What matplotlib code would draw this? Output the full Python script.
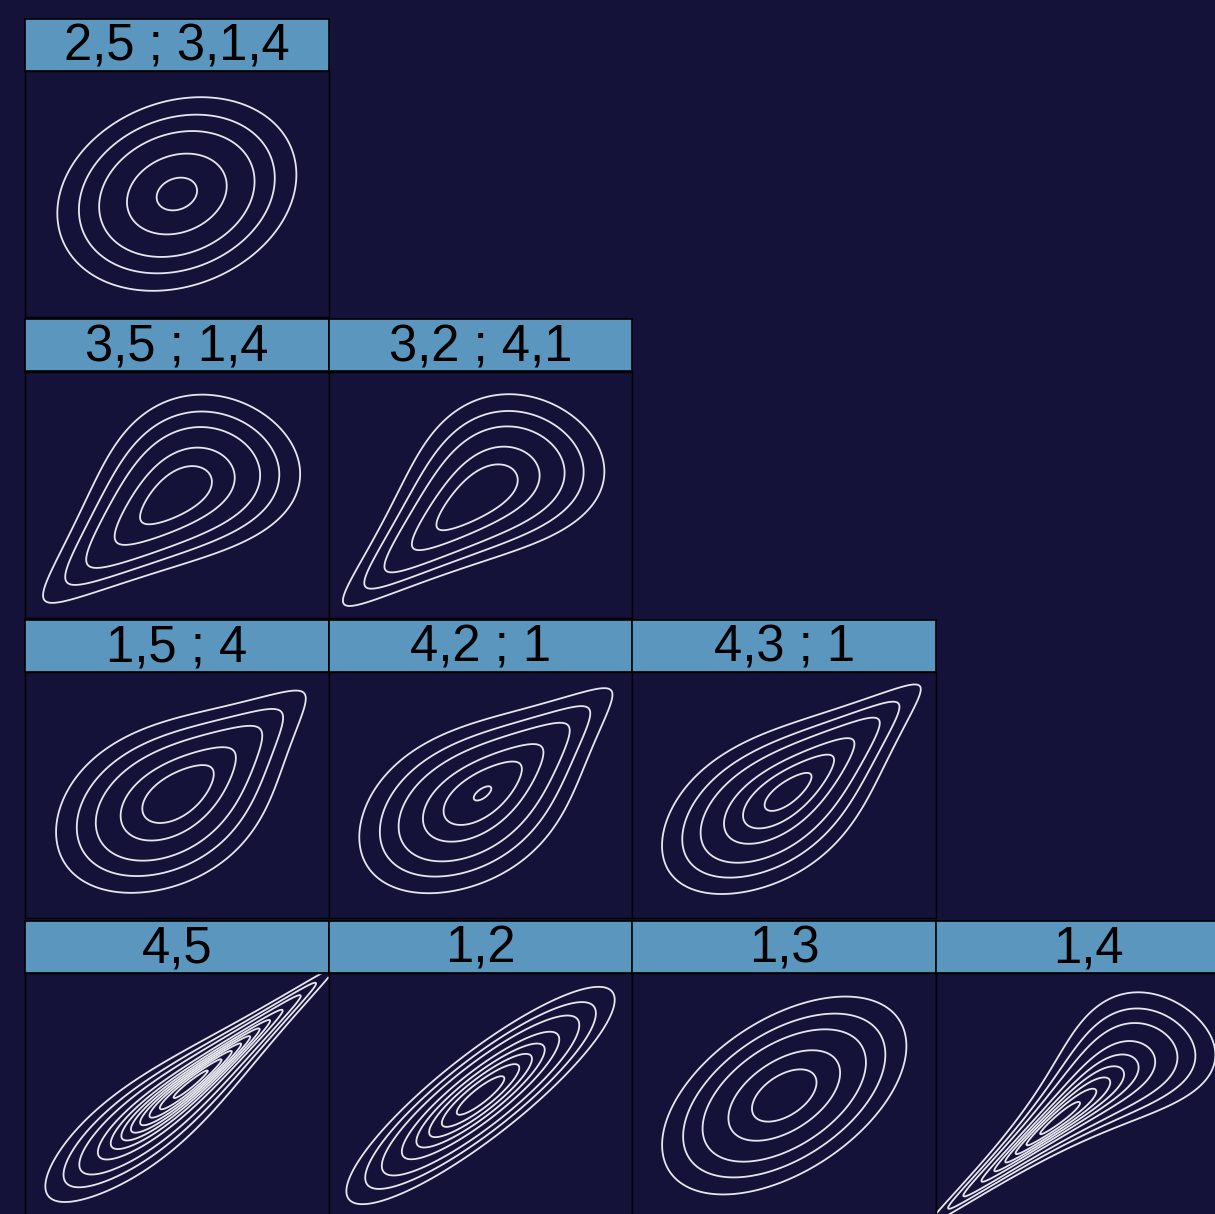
import math
import numpy as np
import matplotlib
matplotlib.use("Agg")
from matplotlib import pyplot as plt

# pair-copula tree layout: row 0 is the top tree, row 3 is tree 1
row0_labels = ["2,5 ; 3,1,4"]
row1_labels = ["3,5 ; 1,4", "3,2 ; 4,1"]
row2_labels = ["1,5 ; 4", "4,2 ; 1", "4,3 ; 1"]
row3_labels = ["4,5", "1,2", "1,3", "1,4"]

row0_family = ["gauss"]
row1_family = ["clayton", "clayton"]
row2_family = ["gumbel", "gumbel", "gumbel"]
row3_family = ["gumbel", "gauss", "gauss", "clayton"]

row0_par = [0.2]
row1_par = [1.0, 1.2]
row2_par = [1.5, 1.6, 1.8]
row3_par = [4.0, 0.88, 0.5, 3.5]

levels = [0.01, 0.025, 0.05, 0.1, 0.15, 0.2, 0.25, 0.3, 0.35, 0.4, 0.45, 0.5,
          0.6, 0.7, 0.8, 0.9, 1.0]

bg = "#141239"
strip = "#5b96be"
linecol = "#e6e6ee"

erf = np.vectorize(math.erf)


def dens(fam, par, x, y):
    # copula density on standard normal margins
    phi = np.exp(-0.5 * (x**2 + y**2)) / (2 * np.pi)
    if fam == "gauss":
        r = par
        q = (x**2 - 2 * r * x * y + y**2) / (1 - r**2)
        return np.exp(-0.5 * q) / (2 * np.pi * np.sqrt(1 - r**2))
    u = 0.5 * (1 + erf(x / np.sqrt(2)))
    v = 0.5 * (1 + erf(y / np.sqrt(2)))
    t = par
    if fam == "clayton":
        c = (1 + t) * (u * v) ** (-1 - t) * (u**-t + v**-t - 1) ** (-2 - 1 / t)
    else:
        lu, lv = -np.log(u), -np.log(v)
        a = lu ** t + lv ** t
        cc = np.exp(-a ** (1 / t))
        c = cc / (u * v) * (lu * lv) ** (t - 1) * a ** (-2 + 2 / t) * (1 + (t - 1) * a ** (-1 / t))
    return c * phi


rows = [(row0_labels, row0_family, row0_par),
        (row1_labels, row1_family, row1_par),
        (row2_labels, row2_family, row2_par),
        (row3_labels, row3_family, row3_par)]

W, H = 1215, 1214
fig = plt.figure(figsize=(W / 100, H / 100), dpi=100, facecolor=bg)

g = np.linspace(-3, 3, 361)
X, Y = np.meshgrid(g, g)

x0, colw = 25, 303.7
y0, rowh = 19, 300.5
striph, panelh = 52, 246

for i, (labs, fams, pars) in enumerate(rows):
    for j in range(len(labs)):
        left = x0 + j * colw
        top = y0 + i * rowh
        sax = fig.add_axes([left / W, 1 - (top + striph) / H, colw / W, striph / H])
        sax.set_facecolor(strip)
        sax.set_xticks([])
        sax.set_yticks([])
        for s in sax.spines.values():
            s.set_color("black")
            s.set_linewidth(1.2)
        sax.text(0.5, 0.46, labs[j], ha="center", va="center", fontsize=36.5,
                 family="Liberation Sans", color="black")

        ax = fig.add_axes([left / W, 1 - (top + striph + panelh) / H, colw / W, panelh / H])
        ax.set_facecolor(bg)
        Z = dens(fams[j], pars[j], X, Y)
        ax.contour(X, Y, Z, levels=levels, colors=linecol, linewidths=1.3)
        ax.set_xlim(-3, 3)
        ax.set_ylim(-3, 3)
        ax.set_xticks([])
        ax.set_yticks([])
        for s in ax.spines.values():
            s.set_color("black")
            s.set_linewidth(1.0)

fig.savefig("out.png", dpi=100, facecolor=bg)
